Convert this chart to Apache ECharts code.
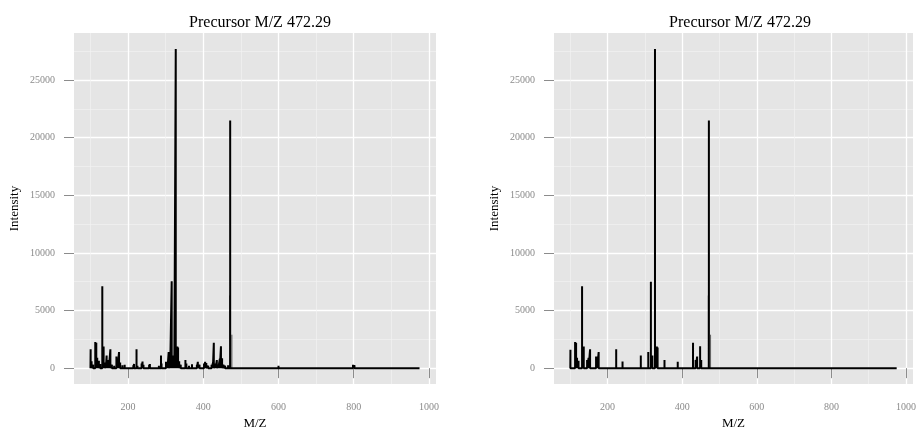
<!DOCTYPE html>
<html>
<head>
<meta charset="utf-8">
<script src="https://cdn.jsdelivr.net/npm/echarts@6/dist/echarts.min.js"></script>
<style>
  html, body { margin: 0; padding: 0; background: #fff; }
  #main { width: 919px; height: 435px; }
</style>
</head>
<body>
<div id="main"></div>
<script>
// peaks of the full spectrum (left) and the filtered one (right)
const leftMz = [100.5, 103, 107, 112.8, 115.5, 118, 120, 122.4, 126, 131.5, 135, 138, 141, 143, 146, 149, 153, 157, 163, 169, 172, 176, 179, 185, 191, 200, 214, 216, 222.5, 225, 236, 238.5, 241, 256, 258, 282, 287.5, 289, 300.8, 305, 308, 312, 316, 319.5, 323, 326.8, 331, 333, 336, 340, 352.5, 355, 362, 370, 383, 385.5, 390, 402, 405, 408, 413, 422, 425.6, 428, 433, 436, 440, 444, 447, 450, 454, 458, 466, 471.5, 600, 750, 798, 802, 806, 920];
const leftInt = [1640, 600, 300, 2270, 2200, 900, 400, 640, 350, 7100, 1870, 500, 300, 1100, 700, 550, 1640, 300, 200, 1000, 700, 1400, 500, 250, 300, 150, 250, 360, 1640, 200, 400, 570, 300, 300, 350, 200, 1100, 400, 560, 300, 1400, 500, 7530, 1100, 600, 27700, 1870, 1800, 600, 300, 700, 400, 200, 340, 300, 550, 300, 400, 550, 450, 200, 300, 450, 2200, 400, 700, 300, 800, 1900, 850, 300, 200, 250, 21500, 200, 150, 300, 250, 150, 150];

const rightMz = [100.3, 112.8, 115.5, 118, 122, 131.5, 136, 145, 149, 153, 169, 172, 176, 223, 240, 289, 309, 316, 320, 327, 332, 334, 352.5, 388, 429, 436, 440, 448, 451, 471.5];
const rightInt = [1600, 2270, 2200, 900, 650, 7100, 1870, 700, 900, 1640, 1000, 1000, 1400, 1640, 570, 1100, 1400, 7500, 1100, 27700, 1870, 1800, 700, 550, 2200, 700, 1000, 1900, 700, 21500];

// thin lines near the precursor, drawn lighter
const faintMz = [470, 476];
const faintInt = [6300, 2900];

const mzStart = 100;
const mzEnd = 975;
const xTicks = [200, 400, 600, 800, 1000];
const xMinor = [100, 300, 500, 700, 900];
const yTicks = [0, 5000, 10000, 15000, 20000, 25000];
const yMinor = [2500, 7500, 12500, 17500, 22500, 27500];
const titleText = 'Precursor M/Z 472.29';

function stickData(mz, inten, withBase) {
  const out = [];
  if (withBase) out.push([mzStart, 0]);
  mz.forEach((m, i) => {
    out.push([m, 0], [m, inten[i]], [m, 0]);
  });
  if (withBase) out.push([mzEnd, 0]);
  return out;
}

const serif = 'Liberation Serif';
const plain = v => String(v);
const xRange = [mzStart - (mzEnd - mzStart) * 0.05, mzEnd + (mzEnd - mzStart) * 0.05];
const yRange = [-27700 * 0.05, 27700 * 1.05];

const panels = [{left: 74, mz: leftMz, inten: leftInt}, {left: 554, mz: rightMz, inten: rightInt}];

const grid = [], xAxis = [], yAxis = [], series = [], title = [];
panels.forEach((p, i) => {
  grid.push({left: p.left, top: 33, width: 362, height: 354, show: true,
    backgroundColor: '#e5e5e5', borderWidth: 0});
  title.push({text: titleText, left: p.left + 181, top: 10, textAlign: 'center',
    textStyle: {fontFamily: serif, fontWeight: 'normal', fontSize: 16, color: '#000'}});
  // major axes
  xAxis.push({type: 'value', gridIndex: i, min: xRange[0], max: xRange[1],
    name: 'M/Z', nameLocation: 'middle', nameGap: 31,
    nameTextStyle: {fontFamily: serif, fontSize: 13, color: '#000'},
    axisLine: {show: false},
    axisTick: {show: true, length: 10, customValues: xTicks, lineStyle: {color: '#8c8c8c'}},
    axisLabel: {customValues: xTicks, formatter: plain, margin: 18, fontFamily: serif, fontSize: 10, color: '#8a8a8a'},
    splitLine: {show: true, lineStyle: {color: '#ffffff', width: 1.3}}});
  yAxis.push({type: 'value', gridIndex: i, min: yRange[0], max: yRange[1],
    name: 'Intensity', nameLocation: 'middle', nameGap: 53,
    nameTextStyle: {fontFamily: serif, fontSize: 13, color: '#000'},
    axisLine: {show: false},
    axisTick: {show: true, length: 10, customValues: yTicks, lineStyle: {color: '#8c8c8c'}},
    axisLabel: {customValues: yTicks, formatter: plain, margin: 19, fontFamily: serif, fontSize: 10, color: '#8a8a8a'},
    splitLine: {show: true, lineStyle: {color: '#ffffff', width: 1.3}}});
});
panels.forEach((p, i) => {
  // minor grid lines on hidden axes
  xAxis.push({type: 'value', gridIndex: i, min: xRange[0], max: xRange[1], show: true,
    axisLine: {show: false}, axisLabel: {show: false},
    axisTick: {show: false, customValues: xMinor},
    splitLine: {show: true, lineStyle: {color: '#f2f2f2', width: 0.7}}});
  yAxis.push({type: 'value', gridIndex: i, min: yRange[0], max: yRange[1], show: true,
    axisLine: {show: false}, axisLabel: {show: false},
    axisTick: {show: false, customValues: yMinor},
    splitLine: {show: true, lineStyle: {color: '#f2f2f2', width: 0.7}}});
});
panels.forEach((p, i) => {
  series.push({type: 'line', xAxisIndex: i, yAxisIndex: i, data: stickData(faintMz, faintInt, false),
    showSymbol: false, silent: true, lineStyle: {color: '#000', width: 1, opacity: 0.35}, z: 2});
  series.push({type: 'line', xAxisIndex: i, yAxisIndex: i, data: stickData(p.mz, p.inten, true),
    showSymbol: false, silent: true, lineStyle: {color: '#000', width: 2, join: 'bevel'}, z: 3});
});

const chart = echarts.init(document.getElementById('main'), null, {renderer: 'canvas'});
chart.setOption({animation: false, title, grid, xAxis, yAxis, series});
</script>
</body>
</html>
